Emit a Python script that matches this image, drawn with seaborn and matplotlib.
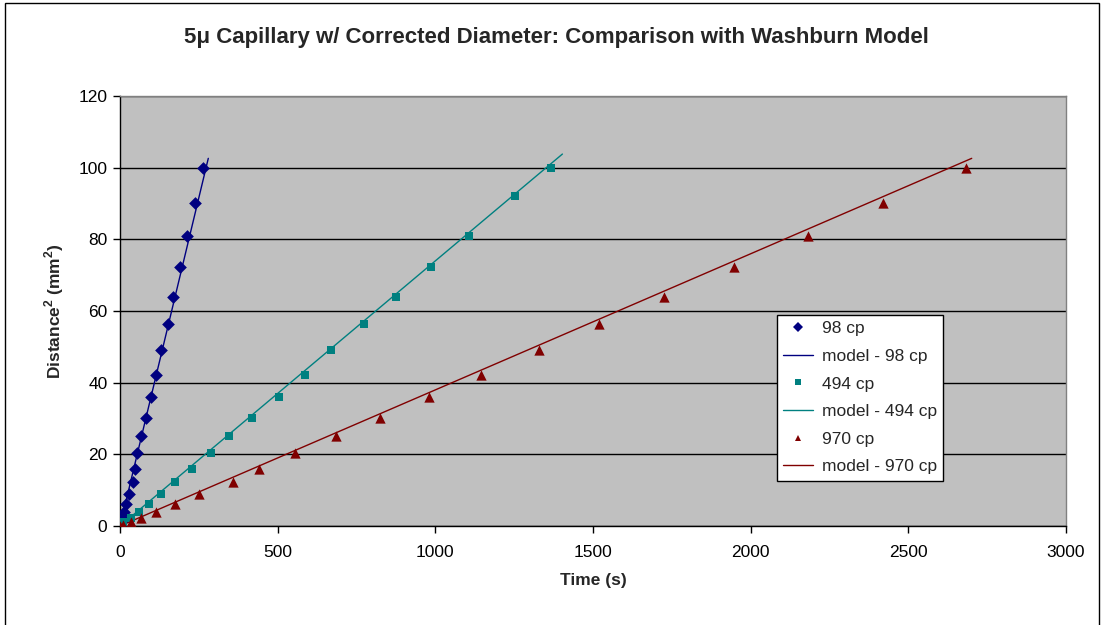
import matplotlib
matplotlib.use("Agg")
import matplotlib.pyplot as plt
from matplotlib.lines import Line2D
from matplotlib.patches import Rectangle
import seaborn as sns
import pandas as pd

# Measured penetration (distance squared, mm^2) against time (s)
t_98 = [0, 3, 7, 14, 20, 27.5, 41, 46, 55, 68, 81, 97, 113, 130, 151, 168, 191, 213, 237, 262]
d2_98 = [0, 1, 2.25, 4, 6.25, 9, 12.25, 16, 20.25, 25, 30.25, 36, 42.25, 49, 56.25, 64, 72.25, 81, 90.25, 100]

t_494 = [0, 11, 34, 59, 91, 130, 173, 227, 289, 347, 420, 503, 586, 668, 774, 874, 987, 1107, 1253, 1366]
d2_494 = [0, 1, 2.25, 4, 6.25, 9, 12.25, 16, 20.25, 25, 30.25, 36, 42.25, 49, 56.25, 64, 72.25, 81, 92.16, 100]

t_970 = [0, 8, 35, 67, 114, 175, 250, 357, 440, 555, 685, 826, 981, 1145, 1330, 1520, 1726, 1947, 2182, 2420, 2684]
d2_970 = [0, 0.25, 1, 2.25, 4, 6.25, 9, 12.25, 16, 20.25, 25, 30.25, 36, 42.25, 49, 56.25, 64, 72.25, 81, 90.25, 100]

# Washburn model lines (start and end points)
model_t_98 = [0, 280]
model_d2_98 = [0, 102.6]
model_t_494 = [0, 1403]
model_d2_494 = [0, 103.8]
model_t_970 = [0, 2701]
model_d2_970 = [0, 102.6]

series_names = ["98 cp", "494 cp", "970 cp"]
colors = {"98 cp": "#000080", "494 cp": "#008080", "970 cp": "#800000"}
markers = {"98 cp": "D", "494 cp": "s", "970 cp": "^"}
msizes = {"98 cp": 42, "494 cp": 40, "970 cp": 55}

meas = pd.concat([
    pd.DataFrame({"time": t_98, "d2": d2_98, "series": "98 cp"}),
    pd.DataFrame({"time": t_494, "d2": d2_494, "series": "494 cp"}),
    pd.DataFrame({"time": t_970, "d2": d2_970, "series": "970 cp"}),
], ignore_index=True)

model = pd.concat([
    pd.DataFrame({"time": model_t_98, "d2": model_d2_98, "series": "98 cp"}),
    pd.DataFrame({"time": model_t_494, "d2": model_d2_494, "series": "494 cp"}),
    pd.DataFrame({"time": model_t_970, "d2": model_d2_970, "series": "970 cp"}),
], ignore_index=True)

sns.set_style("white")
plt.rcParams["font.family"] = ["Liberation Sans", "DejaVu Sans"]
plt.rcParams["mathtext.fontset"] = "custom"
plt.rcParams["mathtext.bf"] = "Liberation Sans:bold"
plt.rcParams["mathtext.rm"] = "Liberation Sans"

fig = plt.figure(figsize=(11.05, 6.25), dpi=100)
ax = fig.add_axes([120 / 1105, 1 - 526 / 625, 946 / 1105, 430 / 625])
ax.set_facecolor("#C0C0C0")

sns.lineplot(data=model, x="time", y="d2", hue="series", palette=colors,
             hue_order=series_names, linewidth=1.0, legend=False, ax=ax,
             sort=False, estimator=None)

for name in series_names:
    sub = meas[meas["series"] == name]
    sns.scatterplot(data=sub, x="time", y="d2", color=colors[name],
                    marker=markers[name], s=msizes[name], linewidth=0,
                    legend=False, ax=ax, zorder=3)

ax.set_xlim(0, 3000)
ax.set_ylim(0, 120)
ax.set_xticks(range(0, 3001, 500))
ax.set_yticks(range(0, 121, 20))
ax.yaxis.grid(True, color="black", linewidth=1.0)
ax.xaxis.grid(False)
ax.set_axisbelow(True)

for side in ["top", "right"]:
    ax.spines[side].set_color("#808080")
    ax.spines[side].set_linewidth(1.0)
for side in ["left", "bottom"]:
    ax.spines[side].set_color("black")
    ax.spines[side].set_linewidth(1.0)

ax.tick_params(axis="both", which="major", direction="out", length=5, width=1,
               color="black", labelsize=12.5, labelcolor="black",
               bottom=True, left=True, pad=4)
ax.tick_params(axis="x", pad=9)

ax.set_xlabel("Time (s)", fontsize=12.5, fontweight="bold", labelpad=9)
ax.set_ylabel(r"Distance$^\mathbf{2}$ (mm$^\mathbf{2}$)", fontsize=12.5,
              fontweight="bold", labelpad=9)

fig.suptitle("5μ Capillary w/ Corrected Diameter: Comparison with Washburn Model",
             x=556 / 1105, y=1 - 38 / 625, va="center", fontsize=16,
             fontweight="bold")

handles = []
labels = []
for name in series_names:
    handles.append(Line2D([], [], linestyle="None", marker=markers[name],
                          color=colors[name], markersize=5, markeredgewidth=0))
    labels.append(name)
    handles.append(Line2D([], [], color=colors[name], linewidth=1.0))
    labels.append("model - " + name)

leg = ax.legend(handles, labels, loc="upper left",
                bbox_to_anchor=((777 - 120) / 946, (526 - 315) / 430),
                borderaxespad=0, fontsize=12.5, frameon=True, fancybox=False,
                framealpha=1, edgecolor="black", handlelength=1.75,
                handletextpad=0.5, labelspacing=0.72, borderpad=0.35)
leg.get_frame().set_linewidth(1.0)

# chart-area border
fig.patches.append(Rectangle((5 / 1105, -0.01), 1094 / 1105, 1.01 - 3 / 625,
                             transform=fig.transFigure, fill=False,
                             edgecolor="black", linewidth=1.0))

fig.savefig("out.png", dpi=100, facecolor="white")
